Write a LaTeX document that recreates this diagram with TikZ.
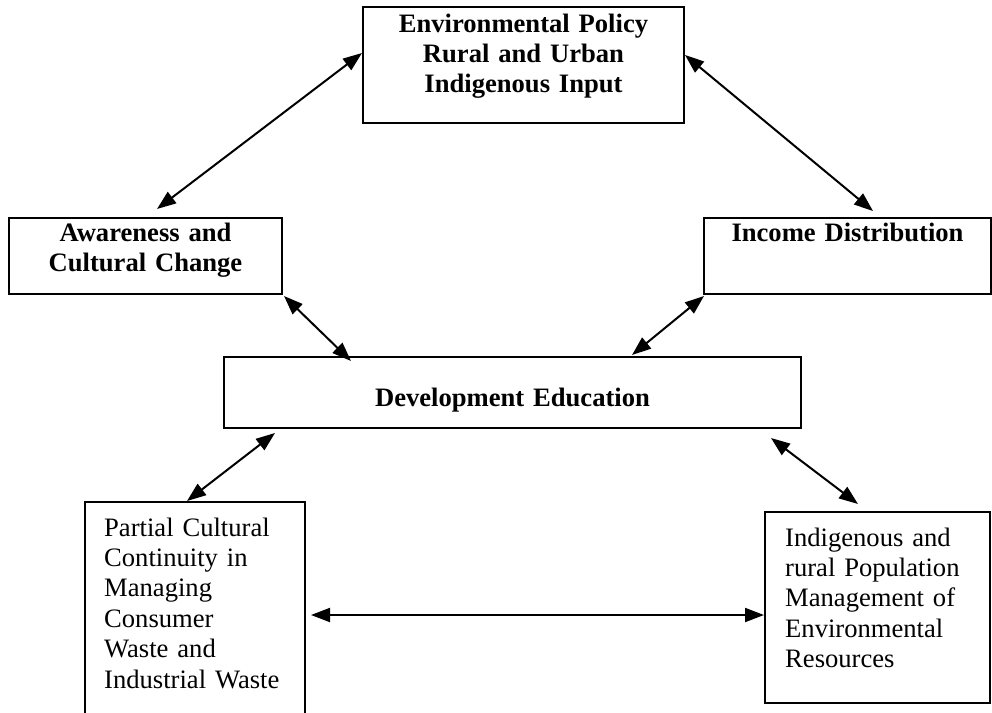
\documentclass[tikz,border=0pt]{standalone}
\usepackage{fontspec}
\setmainfont{Liberation Serif}
\usetikzlibrary{positioning,arrows.meta}

\begin{document}
\begin{tikzpicture}[x=1pt, y=-1pt, font=\fontsize{26.6}{30.4}\selectfont,
	frame/.style={draw, line width=2pt, inner sep=0pt},
	headtxt/.style={inner sep=0pt, anchor=base, align=center, font=\fontsize{26.6}{30}\selectfont\bfseries},
	bodytxt/.style={inner sep=0pt, anchor=base west, align=left, text width=240pt},
	link/.style={<->, line width=2pt, >={Triangle[length=19pt,width=14pt]}}]
		\useasboundingbox (0,0) rectangle (992,712);

		\node [frame, minimum width=321pt, minimum height=116pt] (env) at (523.5,65) {};
		\node [frame, minimum width=273pt, minimum height=76pt] (aware) at (145.5,256) {};
		\node [frame, minimum width=287pt, minimum height=76pt] (income) at (847.5,256) {};
		\node [frame, minimum width=577pt, minimum height=71pt] (devel) at (512.5,392.5) {};
		\node [frame, minimum width=220pt, minimum height=226pt] (partial) at (195,615) {};
		\node [frame, minimum width=225pt, minimum height=191pt] (indig) at (877.5,607.5) {};

		\node [headtxt, text width=320pt] (envT) at ([yshift=-26pt]env.north) {Environmental Policy\\Rural and Urban\\Indigenous Input};
		\node [headtxt, text width=270pt] (awareT) at ([yshift=-24pt]aware.north) {Awareness and\\Cultural Change};
		\node [headtxt, text width=285pt] (incomeT) at ([yshift=-24pt]income.north) {Income Distribution};
		\node [headtxt, text width=570pt] (develT) at ([yshift=-50pt]devel.north) {Development Education};
		\node [bodytxt] (partialT) at ([xshift=20pt,yshift=-35pt]partial.north west) {Partial Cultural\\Continuity in\\Managing\\Consumer\\Waste and\\Industrial Waste};
		\node [bodytxt] (indigT) at ([xshift=21pt,yshift=-35pt]indig.north west) {Indigenous and\\rural Population\\Management of\\Environmental\\Resources};

		\draw [link] ([yshift=12pt]env.west) -- ([xshift=11.5pt,yshift=8pt]aware.north);
		\draw [link] ([yshift=10pt]env.east) -- ([xshift=25.5pt,yshift=6pt]income.north);
		\draw [link] ([xshift=1pt,yshift=-1pt]aware.south east) -- ([xshift=128pt,yshift=-5pt]devel.north west);
		\draw [link] ([xshift=1pt,yshift=-1pt]income.south west) -- ([xshift=409pt,yshift=1pt]devel.north west);
		\draw [link] ([xshift=52pt,yshift=-4pt]devel.south west) -- ([xshift=-8pt]partial.north);
		\draw [link] ([xshift=-31pt,yshift=-9pt]devel.south east) -- ([xshift=-19.5pt,yshift=7pt]indig.north);
		\draw [link] ([xshift=5pt]partial.east) -- (partial.east -| indig.west);
	\end{tikzpicture}
\end{document}
